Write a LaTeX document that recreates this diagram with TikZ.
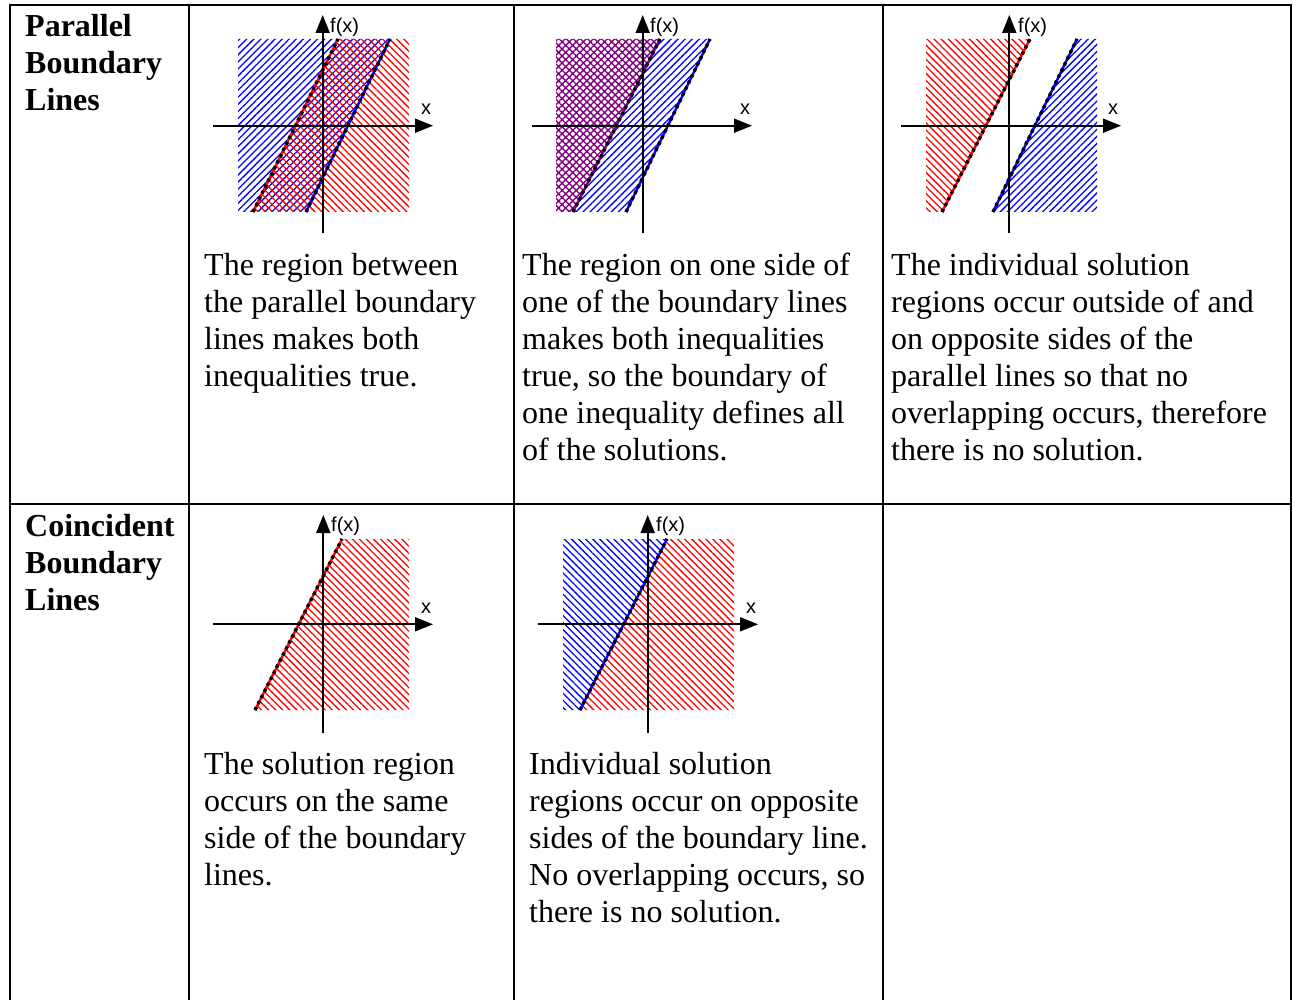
\documentclass[tikz,border=0pt]{standalone}
\usepackage{fontspec}
\setmainfont{Liberation Serif}
\newfontfamily\axisfont{Liberation Sans}
\usetikzlibrary{arrows.meta,patterns.meta}
\definecolor{hblue}{RGB}{0,0,255}
\definecolor{hred}{RGB}{255,0,0}
\definecolor{hpurple}{RGB}{128,0,128}
\begin{document}
\begin{tikzpicture}[x=1pt,y=-1pt,
  gridline/.style={line width=2pt,black},
  axisline/.style={line width=1.9pt,black,-{Triangle[length=18pt,width=14pt]}},
  alab/.style={font=\axisfont\fontsize{20}{22}\selectfont,inner sep=0pt,anchor=west},
  body/.style={font=\fontsize{32}{37}\selectfont,align=left,anchor=north west,inner sep=0pt},
  head/.style={font=\bfseries\fontsize{32}{37}\selectfont,align=left,anchor=north west,inner sep=0pt},
  bhatchA/.style={pattern={Lines[angle=45,distance=5pt,line width=1.3pt]},pattern color=hblue},
  bhatchB/.style={pattern={Lines[angle=-45,distance=5pt,line width=1.3pt]},pattern color=hblue},
  rhatch/.style={pattern={Lines[angle=-45,distance=5pt,line width=1.3pt]},pattern color=hred},
  phatch/.style={pattern={Hatch[angle=45,distance=5pt,line width=1.4pt]},pattern color=hpurple},
  bound/.style={line width=2.4pt},
  bdots/.style={black,line width=3.4pt,dash pattern=on 3.2pt off 3.6pt},
]
\useasboundingbox (0,0) rectangle (1293,1000);

% ---------- table grid ----------
\draw[gridline] (10,1001) -- (10,5) -- (1291,5) -- (1291,1001);
\draw[gridline] (10,504) -- (1291,504);
\draw[gridline] (189,5) -- (189,1001);
\draw[gridline] (514,5) -- (514,1001);
\draw[gridline] (883,5) -- (883,1001);

% ---------- headers ----------
\node[head] (h1) at (25,14) {Parallel\\Boundary\\Lines};
\node[head] (h2) at (25,514) {Coincident\\Boundary\\Lines};

% ---------- graph 1 ----------
\fill[bhatchA] (238,39) -- (390,39) -- (306,212) -- (238,212) -- cycle;
\fill[rhatch] (338,39) -- (409,39) -- (409,212) -- (253,212) -- cycle;
\draw[bound,hred] (253,212) -- (338,39);
\draw[bdots] (253,212) -- (338,39);
\draw[bound,hblue] (306,212) -- (390,39);
\draw[bdots] (306,212) -- (390,39);
\coordinate (g1xs) at (213,125.7); \coordinate (g1xe) at (433,125.7);
\coordinate (g1ys) at (322.7,233); \coordinate (g1ye) at (322.7,15);
\draw[axisline] (g1xs) -- (g1xe);
\draw[axisline] (g1ys) -- (g1ye);
\node[alab] (g1f) at (330,27) {f(x)};
\node[alab] (g1x) at (421,109) {x};

% ---------- graph 2 ----------
\fill[phatch] (556,39) -- (660,39) -- (573,212) -- (556,212) -- cycle;
\fill[bhatchA] (660,39) -- (710,39) -- (626,212) -- (573,212) -- cycle;
\draw[bound,hpurple] (573,212) -- (660,39);
\draw[bdots] (573,212) -- (660,39);
\draw[bound,hblue] (626,212) -- (710,39);
\draw[bdots] (626,212) -- (710,39);
\coordinate (g2xs) at (532,125.7); \coordinate (g2xe) at (752,125.7);
\coordinate (g2ys) at (642.7,233); \coordinate (g2ye) at (642.7,15);
\draw[axisline] (g2xs) -- (g2xe);
\draw[axisline] (g2ys) -- (g2ye);
\node[alab] (g2f) at (650,27) {f(x)};
\node[alab] (g2x) at (740,109) {x};

% ---------- graph 3 ----------
\fill[rhatch] (926,39) -- (1030,39) -- (942,212) -- (926,212) -- cycle;
\fill[bhatchA] (1077,39) -- (1097,39) -- (1097,212) -- (993,212) -- cycle;
\draw[bound,hred] (942,212) -- (1030,39);
\draw[bdots] (942,212) -- (1030,39);
\draw[bound,hblue] (993,212) -- (1077,39);
\draw[bdots] (993,212) -- (1077,39);
\coordinate (g3xs) at (901,125.7); \coordinate (g3xe) at (1121,125.7);
\coordinate (g3ys) at (1009.3,233); \coordinate (g3ye) at (1009.3,15);
\draw[axisline] (g3xs) -- (g3xe);
\draw[axisline] (g3ys) -- (g3ye);
\node[alab] (g3f) at (1018,27) {f(x)};
\node[alab] (g3x) at (1108,109) {x};

% ---------- graph 4 ----------
\fill[rhatch] (342,539) -- (409,539) -- (409,710) -- (255,710) -- cycle;
\draw[bound,hred] (255,710) -- (342,539);
\draw[bdots] (255,710) -- (342,539);
\coordinate (g4xs) at (213,624.3); \coordinate (g4xe) at (433,624.3);
\coordinate (g4ys) at (323.3,733); \coordinate (g4ye) at (323.3,515);
\draw[axisline] (g4xs) -- (g4xe);
\draw[axisline] (g4ys) -- (g4ye);
\node[alab] (g4f) at (331,526) {f(x)};
\node[alab] (g4x) at (421,608) {x};

% ---------- graph 5 ----------
\fill[bhatchB] (563,539) -- (667,539) -- (580,710) -- (563,710) -- cycle;
\fill[rhatch] (667,539) -- (734,539) -- (734,710) -- (580,710) -- cycle;
\draw[bound,hblue] (580,710) -- (667,539);
\draw[bdots] (580,710) -- (667,539);
\coordinate (g5xs) at (538,624.3); \coordinate (g5xe) at (758,624.3);
\coordinate (g5ys) at (647.7,733); \coordinate (g5ye) at (647.7,515);
\draw[axisline] (g5xs) -- (g5xe);
\draw[axisline] (g5ys) -- (g5ye);
\node[alab] (g5f) at (656,526) {f(x)};
\node[alab] (g5x) at (746,608) {x};

% ---------- texts ----------
\node[body] (t1) at (204,253) {The region between\\the parallel boundary\\lines makes both\\inequalities true.};
\node[body] (t2) at (522,253) {The region on one side of\\one of the boundary lines\\makes both inequalities\\true, so the boundary of\\one inequality defines all\\of the solutions.};
\node[body] (t3) at (891,253) {The individual solution\\regions occur outside of and\\on opposite sides of the\\parallel lines so that no\\overlapping occurs, therefore\\there is no solution.};
\node[body] (t4) at (204,752) {The solution region\\occurs on the same\\side of the boundary\\lines.};
\node[body] (t5) at (529,752) {Individual solution\\regions occur on opposite\\sides of the boundary line.\\No overlapping occurs, so\\there is no solution.};
\end{tikzpicture}
\end{document}
